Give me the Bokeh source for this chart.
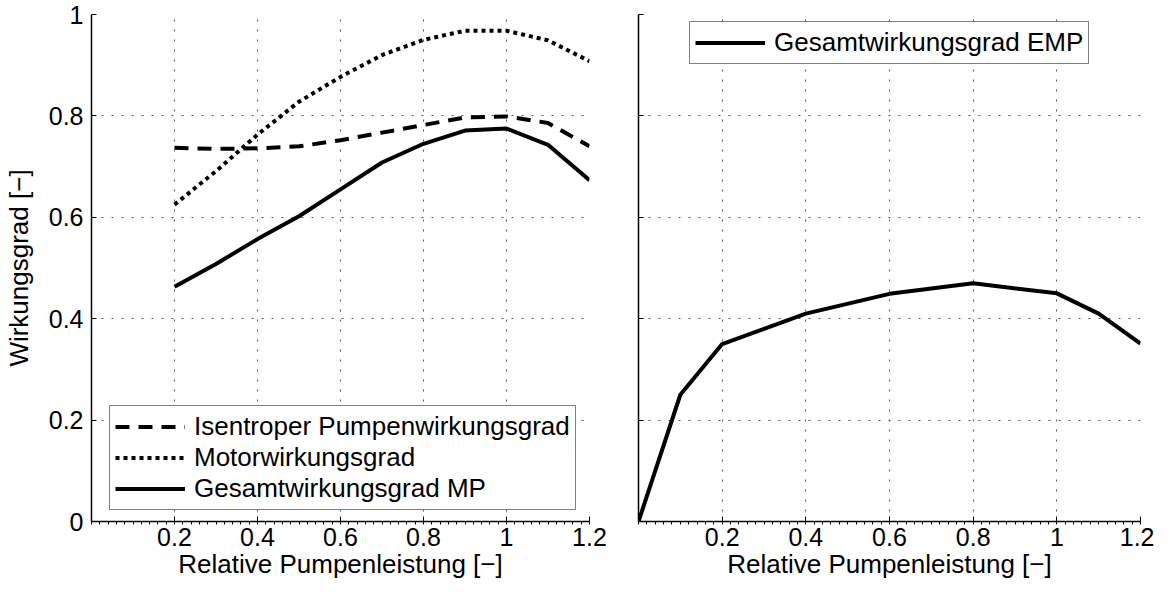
from bokeh.plotting import figure
from bokeh.layouts import row
from bokeh.models import FixedTicker, Legend, LegendItem
from bokeh.embed import file_html
from bokeh.resources import INLINE

# ---------------- data ----------------
x_mp = [0.2, 0.3, 0.4, 0.5, 0.6, 0.7, 0.8, 0.9, 1.0, 1.1, 1.2]
eta_isentrop = [0.737, 0.735, 0.736, 0.740, 0.752, 0.767, 0.782, 0.797, 0.799, 0.786, 0.740]
eta_motor = [0.625, 0.691, 0.763, 0.828, 0.877, 0.920, 0.950, 0.968, 0.968, 0.949, 0.908]
eta_mp = [0.463, 0.508, 0.557, 0.602, 0.655, 0.708, 0.745, 0.771, 0.775, 0.743, 0.673]

x_emp = [0.0, 0.1, 0.2, 0.4, 0.6, 0.8, 1.0, 1.1, 1.2]
eta_emp = [0.0, 0.25, 0.35, 0.41, 0.449, 0.47, 0.45, 0.41, 0.351]

x_ticks = [0.2, 0.4, 0.6, 0.8, 1.0, 1.2]
x_tick_labels = ["0.2", "0.4", "0.6", "0.8", "1", "1.2"]
y_ticks = [0.0, 0.2, 0.4, 0.6, 0.8, 1.0]
y_tick_labels = ["0", "0.2", "0.4", "0.6", "0.8", "1"]

x_label = "Relative Pumpenleistung [\u2212]"
y_label = "Wirkungsgrad [\u2212]"
left_legend_labels = ["Isentroper Pumpenwirkungsgrad", "Motorwirkungsgrad", "Gesamtwirkungsgrad MP"]
right_legend_label = "Gesamtwirkungsgrad EMP"

FONT = "Liberation Sans"
TICK_FS = "25px"
LABEL_FS = "26px"
H = 581
minor_x = [round(i * 0.02, 2) for i in range(61)]


def make_fig(width, bl, br, show_y_labels):
    p = figure(width=width, height=H, x_range=(0, 1.2), y_range=(0, 1),
               output_backend="svg", toolbar_location=None,
               min_border_left=bl, min_border_right=br,
               min_border_top=14, min_border_bottom=0)
    p.outline_line_color = None
    p.background_fill_color = "white"
    p.border_fill_color = "white"

    xa = p.xaxis[0]
    xa.ticker = FixedTicker(ticks=x_ticks, minor_ticks=minor_x)
    xa.major_label_overrides = {t: s for t, s in zip(x_ticks, x_tick_labels)}
    xa.axis_label = x_label
    ya = p.yaxis[0]
    ya.ticker = FixedTicker(ticks=y_ticks, minor_ticks=[])
    if show_y_labels:
        ya.major_label_overrides = {t: s for t, s in zip(y_ticks, y_tick_labels)}
        ya.axis_label = y_label
    else:
        ya.major_label_overrides = {t: "" for t in y_ticks}

    for ax in (xa, ya):
        ax.axis_line_color = "black"
        ax.axis_line_width = 1.5
        ax.major_tick_line_color = "black"
        ax.major_tick_line_width = 1
        ax.major_tick_in = 5
        ax.major_tick_out = 0
        ax.minor_tick_line_color = "black"
        ax.minor_tick_in = 0
        ax.minor_tick_out = 0
        ax.major_label_text_font = FONT
        ax.major_label_text_font_size = TICK_FS
        ax.major_label_text_color = "black"
        ax.axis_label_text_font = FONT
        ax.axis_label_text_font_size = LABEL_FS
        ax.axis_label_text_font_style = "normal"
        ax.axis_label_text_color = "black"
    xa.minor_tick_out = 3
    xa.major_label_standoff = 3
    xa.axis_label_standoff = 0
    ya.major_label_standoff = 8
    ya.axis_label_standoff = 12

    for g in (p.xgrid[0], p.ygrid[0]):
        g.grid_line_color = "#555555"
        g.grid_line_width = 1
        g.grid_line_dash = "2 8"
    return p


def style_legend(lg):
    lg.border_line_color = "black"
    lg.border_line_width = 1.5
    lg.background_fill_color = "white"
    lg.background_fill_alpha = 1
    lg.label_text_font = FONT
    lg.label_text_font_size = LABEL_FS
    lg.label_text_color = "black"
    lg.glyph_width = 70
    lg.glyph_height = 31
    lg.label_height = 31
    lg.label_standoff = 9
    lg.padding = 5
    lg.spacing = 0
    lg.margin = 0


# ---------------- left figure ----------------
p1 = make_fig(width=85 + 504 + 20, bl=85, br=20, show_y_labels=True)
r_isen = p1.line(x_mp, eta_isentrop, line_color="black", line_width=4, line_dash="14 9")
r_mot = p1.line(x_mp, eta_motor, line_color="black", line_width=4, line_dash="4 4")
r_mp = p1.line(x_mp, eta_mp, line_color="black", line_width=4)
leg1 = Legend(items=[LegendItem(label=left_legend_labels[0], renderers=[r_isen]),
                     LegendItem(label=left_legend_labels[1], renderers=[r_mot]),
                     LegendItem(label=left_legend_labels[2], renderers=[r_mp])],
              location=(18, 11))
style_legend(leg1)
p1.add_layout(leg1)

# ---------------- right figure ----------------
p2 = make_fig(width=1154 - (85 + 504 + 20), bl=29, br=14, show_y_labels=False)
r_emp = p2.line(x_emp, eta_emp, line_color="black", line_width=4)
leg2 = Legend(items=[LegendItem(label=right_legend_label, renderers=[r_emp])],
              location=(51, 457))
style_legend(leg2)
p2.add_layout(leg2)

layout = row(p1, p2)
open("out.html", "w").write(file_html(layout, INLINE))
